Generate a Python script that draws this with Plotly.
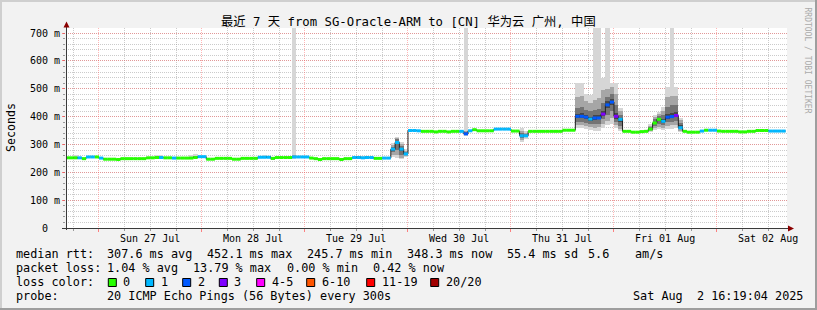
import pandas as pd
import plotly.graph_objects as go

# ---------------- data ----------------
t_first_hour = "2025-07-26 16:00"          # start of hourly RRD steps
x_start = "2025-07-26 16:19:04"
x_end = "2025-08-02 16:19:04"

median_ms = [
    252, 252, 252, 252, 249, 255, 255, 255, 251, 247, 247, 247,
    246, 249, 249, 249, 249, 249, 249, 252, 252, 253, 253, 252,
    252, 251, 251, 251, 251, 251, 253, 256, 256, 247, 247, 250,
    250, 250, 250, 247, 247, 250, 250, 250, 250, 254, 254, 254,
    250, 253, 253, 253, 253, 255, 255, 255, 255, 251, 249, 246,
    249, 249, 249, 249, 246, 249, 249, 253, 253, 252, 253, 253,
    250, 250, 251, 251, 283, 307, 283, 266, 350, 350, 349, 347,
    347, 347, 345, 347, 347, 345, 347, 347, 347, 338, 349, 353,
    349, 349, 349, 349, 355, 355, 355, 355, 348, 348, 331, 331,
    347, 347, 347, 347, 347, 347, 347, 347, 351, 351, 351, 401,
    401, 398, 391, 395, 395, 409, 442, 452, 401, 390, 347, 347,
    344, 344, 346, 347, 355, 377, 390, 383, 398, 400, 404, 360,
    347, 344, 344, 344, 348, 351, 351, 351, 348, 347, 347, 347,
    347, 345, 345, 347, 347, 350, 350, 350, 348, 348, 348, 348,
]
loss_count = [
    0, 0, 0, 1, 0, 1, 1, 0, 1, 0, 0, 0,
    0, 0, 0, 0, 0, 0, 0, 0, 0, 0, 1, 0,
    0, 1, 0, 0, 0, 0, 0, 1, 1, 0, 0, 0,
    0, 0, 0, 0, 0, 0, 0, 0, 0, 1, 1, 1,
    0, 0, 0, 0, 0, 1, 1, 1, 1, 0, 0, 0,
    0, 0, 0, 0, 0, 0, 0, 1, 1, 1, 1, 1,
    0, 0, 1, 1, 1, 1, 1, 1, 1, 1, 1, 0,
    0, 0, 0, 0, 0, 0, 0, 0, 1, 2, 1, 0,
    0, 0, 0, 0, 1, 1, 1, 1, 0, 0, 1, 1,
    0, 0, 0, 0, 0, 0, 0, 0, 0, 0, 0, 2,
    2, 2, 1, 2, 2, 3, 2, 2, 3, 1, 0, 0,
    0, 0, 0, 0, 0, 0, 0, 1, 2, 2, 3, 1,
    0, 0, 0, 0, 1, 0, 1, 1, 0, 0, 0, 0,
    0, 0, 0, 0, 0, 0, 0, 0, 1, 1, 1, 1,
]

# smoke (ping distribution) for the hours where it is visible
smoke_hour = [2, 21, 22, 29, 30, 45, 46, 47, 48, 53, 68, 69, 70, 76, 77, 78, 79, 93,
              106, 107, 119, 120, 121, 122, 123, 124, 125, 126, 127, 128, 129,
              136, 137, 138, 139, 140, 141, 142, 143]
smoke_min = [250, 250, 250, 249, 250, 252, 252, 252, 246, 248, 250, 249, 250, 255, 252, 248, 255, 330,
             310, 320, 358, 360, 355, 352, 350, 350, 360, 370, 375, 360, 350,
             345, 352, 355, 352, 355, 355, 358, 345]
smoke_p10 = [251, 251, 251, 250, 251, 253, 253, 253, 247, 250, 251, 250, 251, 262, 262, 252, 258, 333,
             315, 325, 368, 370, 365, 362, 360, 362, 375, 385, 395, 370, 355,
             348, 358, 362, 360, 365, 368, 370, 350]
smoke_p25 = [251, 252, 252, 250, 252, 253, 253, 253, 248, 252, 252, 251, 252, 272, 280, 262, 261, 335,
             322, 328, 380, 382, 378, 372, 372, 375, 390, 405, 420, 380, 365,
             351, 365, 372, 370, 380, 382, 385, 356]
smoke_p40 = [252, 253, 253, 251, 253, 254, 254, 254, 249, 254, 253, 252, 253, 280, 300, 278, 264, 337,
             328, 330, 394, 395, 390, 385, 388, 390, 403, 430, 440, 393, 380,
             353, 372, 384, 378, 392, 394, 398, 360]
smoke_p60 = [253, 254, 254, 252, 254, 255, 255, 255, 251, 257, 254, 253, 254, 287, 312, 288, 268, 340,
             334, 333, 410, 412, 405, 400, 405, 405, 420, 455, 462, 412, 395,
             358, 382, 395, 392, 410, 412, 415, 368]
smoke_p75 = [254, 255, 255, 253, 256, 256, 256, 256, 252, 259, 255, 254, 255, 292, 318, 295, 272, 343,
             340, 337, 430, 435, 425, 420, 425, 428, 450, 470, 480, 440, 405,
             362, 390, 402, 405, 435, 440, 440, 378]
smoke_p90 = [256, 257, 257, 256, 259, 257, 258, 257, 253, 262, 256, 256, 256, 298, 322, 300, 276, 348,
             348, 342, 470, 475, 455, 450, 460, 465, 495, 500, 505, 480, 420,
             366, 398, 410, 420, 470, 475, 475, 388]
smoke_max = [263, 262, 262, 262, 265, 260, 261, 260, 255, 760, 259, 259, 259, 305, 325, 308, 282, 760,
             360, 350, 520, 520, 482, 478, 760, 760, 537, 760, 520, 520, 430,
             372, 405, 418, 435, 506, 760, 506, 395]

loss_colors = ["#26ff00", "#00b8ff", "#0059ff", "#7e00ff", "#ff00ff", "#ff5500", "#ff0000", "#a10000"]
loss_labels = ["0", "1", "2", "3", "4-5", "6-10", "11-19", "20/20"]

y_tick_vals = [0, 100, 200, 300, 400, 500, 600, 700]
y_tick_text = ["0\u00a0\u00a0", "100 m", "200 m", "300 m", "400 m", "500 m", "600 m", "700 m"]
x_tick_dates = ["2025-07-27 12:00", "2025-07-28 12:00", "2025-07-29 12:00", "2025-07-30 12:00",
                "2025-07-31 12:00", "2025-08-01 12:00", "2025-08-02 12:00"]
x_tick_labels = ["Sun 27 Jul", "Mon 28 Jul", "Tue 29 Jul", "Wed 30 Jul",
                 "Thu 31 Jul", "Fri 01 Aug", "Sat 02 Aug"]

title_text = "最近 7 天 from SG-Oracle-ARM to [CN] 华为云 广州, 中国"
stats_rtt = ["median rtt:", "307.6 ms avg", "452.1 ms max", "245.7 ms min",
             "348.3 ms now", "55.4 ms sd", "5.6", "am/s"]
stats_loss = ["packet loss:", "1.04 % avg", "13.79 % max", "0.00 % min", "0.42 % now"]
probe_text = ["probe:", "20 ICMP Echo Pings (56 Bytes) every 300s", "Sat Aug  2 16:19:04 2025"]

# ---------------- layout helpers ----------------
FW, FH = 817, 310
L, T, W, H = 66, 28, 721, 200
Y_MAX = 718
MONO = "DejaVu Sans Mono, Noto Sans CJK SC"


def px(x):
    return (x - L) / W


def py(y):
    return (T + H - y) / H


def color_index(n):
    if n <= 3:
        return n
    if n <= 5:
        return 4
    if n <= 10:
        return 5
    if n <= 19:
        return 6
    return 7


hours = pd.date_range(t_first_hour, periods=len(median_ms), freq="h")
step = pd.Timedelta(hours=1)

fig = go.Figure()

# smoke bands (outer -> inner)
bands = [(smoke_min, smoke_max, "#d6d6d6"),
         (smoke_p10, smoke_p90, "#a6a6a6"),
         (smoke_p25, smoke_p75, "#747474"),
         (smoke_p40, smoke_p60, "#474747")]
sx = [hours[h] for h in smoke_hour]
for lo, hi, col in bands:
    fig.add_trace(go.Bar(x=sx, y=[b - a for a, b in zip(lo, hi)], base=lo,
                         width=3600 * 1000, offset=0,
                         marker=dict(color=col, line=dict(width=0)),
                         hoverinfo="skip"))

# thin dark step line of the median
fig.add_trace(go.Scatter(x=list(hours) + [hours[-1] + step],
                         y=median_ms + [median_ms[-1]],
                         mode="lines", line=dict(color="#202020", width=1, shape="hv"),
                         hoverinfo="skip"))

# thick median segments colored by loss
for ci, col in enumerate(loss_colors):
    xs, ys = [], []
    for i, (m, n) in enumerate(zip(median_ms, loss_count)):
        if color_index(n) == ci:
            xs += [hours[i], hours[i] + step, None]
            ys += [m, m, None]
    if xs:
        fig.add_trace(go.Scatter(x=xs, y=ys, mode="lines",
                                 line=dict(color=col, width=3), hoverinfo="skip"))

shapes = []
annotations = []

# frame shading
shapes += [
    dict(type="rect", xref="paper", yref="paper", x0=px(0), x1=px(FW), y0=py(0), y1=py(2),
         fillcolor="#cfcfcf", line=dict(width=0), layer="above"),
    dict(type="rect", xref="paper", yref="paper", x0=px(0), x1=px(2), y0=py(0), y1=py(FH),
         fillcolor="#cfcfcf", line=dict(width=0), layer="above"),
    dict(type="rect", xref="paper", yref="paper", x0=px(0), x1=px(FW), y0=py(FH - 2), y1=py(FH),
         fillcolor="#9e9e9e", line=dict(width=0), layer="above"),
    dict(type="rect", xref="paper", yref="paper", x0=px(FW - 2), x1=px(FW), y0=py(0), y1=py(FH),
         fillcolor="#9e9e9e", line=dict(width=0), layer="above"),
]

# axis lines and arrows
axis_col = "#3a3a3a"
arrow_col = "#8b0000"
shapes += [
    dict(type="line", xref="paper", yref="paper", x0=px(66.5), x1=px(66.5), y0=py(230), y1=py(24),
         line=dict(color=axis_col, width=1), layer="above"),
    dict(type="line", xref="paper", yref="paper", x0=px(62), x1=px(789), y0=py(228.5), y1=py(228.5),
         line=dict(color=axis_col, width=1), layer="above"),
    dict(type="path", xref="paper", yref="paper",
         path=f"M {px(63.5)},{py(27.5)} L {px(69.5)},{py(27.5)} L {px(66.5)},{py(21.5)} Z",
         fillcolor=arrow_col, line=dict(width=0), layer="above"),
    dict(type="path", xref="paper", yref="paper",
         path=f"M {px(788)},{py(225.5)} L {px(788)},{py(231.5)} L {px(794)},{py(228.5)} Z",
         fillcolor=arrow_col, line=dict(width=0), layer="above"),
]


def ann(text, x, y, size=11.8, anchor="left", color="#000000", angle=0):
    annotations.append(dict(text=text.replace("  ", "\u00a0\u00a0"), xref="paper", yref="paper",
                            x=px(x), y=py(y), xanchor=anchor, yanchor="middle",
                            showarrow=False, borderpad=0, borderwidth=0, textangle=angle,
                            font=dict(family=MONO, size=size, color=color)))


# title
ann(title_text, 408, 21, size=12.3, anchor="center")
# y axis title
ann("Seconds", 11, 128, size=11.6, anchor="center", angle=-90)
# side credit
ann("RRDTOOL / TOBI OETIKER", 807.5, 60, size=8, anchor="center", color="#aaaaaa", angle=90)

# x tick labels (centred at noon)
for d, lab in zip(x_tick_dates, x_tick_labels):
    annotations.append(dict(text=lab, xref="x", yref="paper", x=d, y=py(238),
                            xanchor="center", yanchor="middle", showarrow=False,
                            borderpad=0, borderwidth=0,
                            font=dict(family=MONO, size=10, color="#000")))

# legend / statistics
rtt_x = [16, 107.3, 206.7, 307.3, 407.3, 507.3, 588.3, 635]
for s, x in zip(stats_rtt, rtt_x):
    ann(s, x, 254)
loss_x = [16, 107.3, 193.3, 286.7, 372.7]
for s, x in zip(stats_loss, loss_x):
    ann(s, x, 268)
ann("loss color:", 16, 282)
box_x = [108.3, 145.7, 182.7, 219.3, 256.7, 306.7, 366.7, 430.7]
for col, lab, bx in zip(loss_colors, loss_labels, box_x):
    shapes.append(dict(type="rect", xref="paper", yref="paper", x0=px(bx), x1=px(bx + 8),
                       y0=py(286.5), y1=py(278.5), fillcolor=col,
                       line=dict(color="#000000", width=1), layer="above"))
    ann(lab, bx + 15, 282)
probe_x = [16, 107.3, 633.3]
for s, x in zip(probe_text, probe_x):
    ann(s, x, 296)

grid_major = "rgba(255,80,80,0.42)"
grid_minor = "rgba(140,140,140,0.45)"

fig.update_layout(
    width=FW, height=FH,
    margin=dict(l=L, r=FW - L - W, t=T, b=FH - T - H, pad=0),
    paper_bgcolor="#f2f2f2", plot_bgcolor="#ffffff",
    showlegend=False, barmode="overlay", bargap=0,
    font=dict(family=MONO, size=10, color="#000000"),
    shapes=shapes, annotations=annotations,
    xaxis=dict(type="date", range=[x_start, x_end], tickmode="linear",
               tick0="2025-07-27 00:00", dtick=86400000, showticklabels=False,
               showgrid=True, gridcolor=grid_major, griddash="1px,1px", gridwidth=1,
               ticks="outside", ticklen=3, tickcolor="rgba(255,80,80,0.7)",
               minor=dict(dtick=21600000, tick0="2025-07-27 00:00", showgrid=True,
                          gridcolor=grid_minor, griddash="1px,1px", gridwidth=1,
                          ticks="outside", ticklen=2, tickcolor="#999999"),
               zeroline=False, showline=False, fixedrange=True),
    yaxis=dict(range=[0, Y_MAX], tickmode="array", tickvals=y_tick_vals, ticktext=y_tick_text,
               showgrid=True, gridcolor=grid_major, griddash="1px,1px", gridwidth=1,
               ticks="outside", ticklen=3, tickcolor="rgba(255,80,80,0.7)",
               tickfont=dict(family=MONO, size=10),
               minor=dict(dtick=20, tick0=0, showgrid=True, gridcolor=grid_minor,
                          griddash="1px,1px", gridwidth=1, ticks="outside", ticklen=2,
                          tickcolor="#999999"),
               zeroline=False, showline=False, fixedrange=True),
)

fig.write_html("out.html")
